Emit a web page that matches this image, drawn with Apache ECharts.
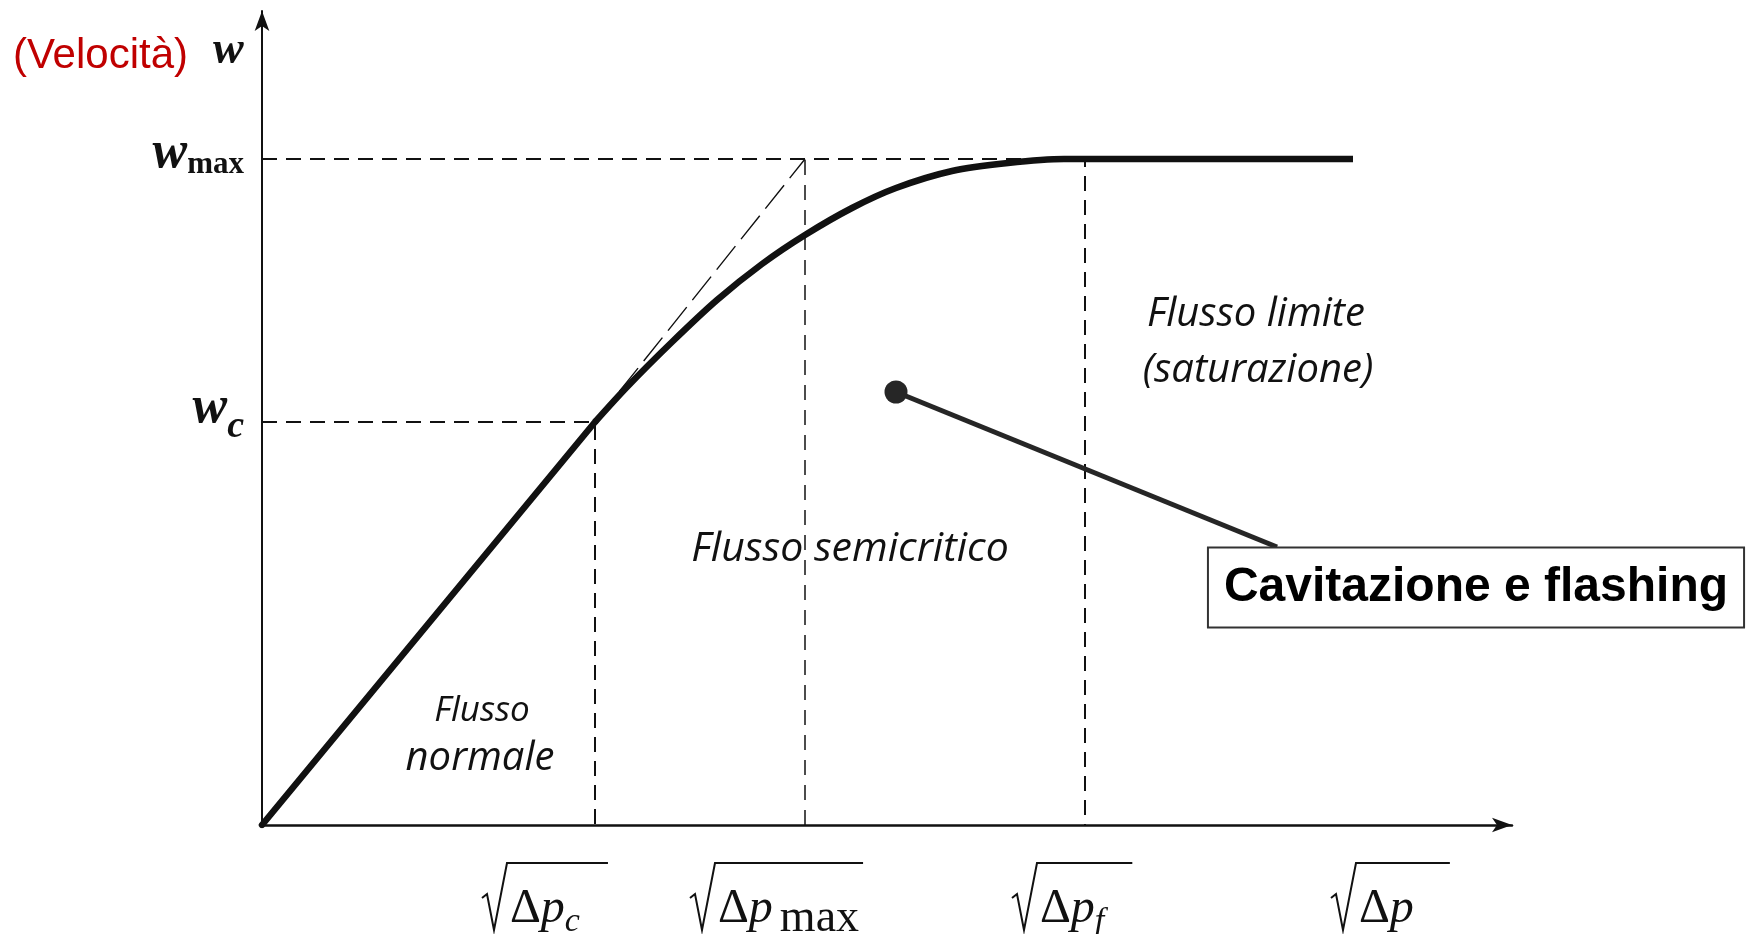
<!DOCTYPE html>
<html>
<head>
<meta charset="utf-8">
<script src="https://cdn.jsdelivr.net/npm/echarts@6/dist/echarts.min.js"></script>
<style>
  html, body { margin: 0; padding: 0; background: #fff; }
  #chart { width: 1757px; height: 934px; }
</style>
</head>
<body>
<div id="chart"></div>
<script>
// Characteristic thresholds on the √Δp axis
const thresholdSubscripts = ['c', 'max', 'f'];
const thresholdX = [3.33, 5.43, 8.23];

// Velocity levels on the w axis
const velocitySubscripts = ['c', 'max'];
const velocityLevels = [4.03, 6.66];

// Flow curve: linear part, transition (semicritical) part, saturation plateau
const linearFlow = [[0, 0], [3.33, 4.03]];
const transitionFlow = [
  [3.33, 4.03], [3.65, 4.38], [4.10, 4.83], [4.55, 5.25], [5.00, 5.61],
  [5.43, 5.90], [5.90, 6.17], [6.34, 6.37], [6.90, 6.54], [7.46, 6.62],
  [8.02, 6.66], [8.23, 6.66], [10.91, 6.66]
];

// Callout: marked point and the anchor of its caption box
const calloutPoint = [6.34, 4.33];
const calloutAnchor = [10.15, 2.78];
const calloutText = 'Cavitazione e flashing';

const INK = '#111111';
const SERIF = '"Liberation Serif", "DejaVu Serif", serif';
const SANS = '"Liberation Sans", Arial, sans-serif';
const HUMAN = '"Open Sans", "Noto Sans", sans-serif';

const X_MAX = 12.5;
const Y_MAX = 8.14;

const [xC, xMax, xF] = thresholdX;
const [wC, wMax] = velocityLevels;

function dashed(data, width, dash) {
  return {
    type: 'line', data: data, showSymbol: false, silent: true, z: 2,
    lineStyle: { color: INK, width: width, type: dash }
  };
}

const chart = echarts.init(document.getElementById('chart'));

chart.setOption({
  animation: false,
  backgroundColor: '#ffffff',
  grid: { left: 262, right: 245, top: 11, bottom: 109 },
  xAxis: {
    type: 'value', min: 0, max: X_MAX,
    axisLine: { show: true, symbol: ['none', 'arrow'], symbolSize: [11, 20],
                lineStyle: { color: INK, width: 2.5 } },
    axisTick: { show: false }, axisLabel: { show: false }, splitLine: { show: false }
  },
  yAxis: {
    type: 'value', min: 0, max: Y_MAX,
    axisLine: { show: true, symbol: ['none', 'arrow'], symbolSize: [11, 20],
                lineStyle: { color: INK, width: 2 } },
    axisTick: { show: false }, splitLine: { show: false },
    axisLabel: {
      customValues: velocityLevels,
      margin: 18,
      formatter: function (v) {
        const i = velocityLevels.indexOf(v);
        return '{w' + i + '|w}{s' + i + '|' + velocitySubscripts[i] + '}';
      },
      rich: {
        w0: { fontFamily: SERIF, fontStyle: 'italic', fontWeight: 'bold', fontSize: 52, color: INK, padding: [0, 0, 26, 0] },
        s0: { fontFamily: SERIF, fontStyle: 'italic', fontWeight: 'bold', fontSize: 38, color: INK, padding: [10, 0, 0, 0] },
        w1: { fontFamily: SERIF, fontStyle: 'italic', fontWeight: 'bold', fontSize: 52, color: INK, padding: [0, 0, 10, 0] },
        s1: { fontFamily: SERIF, fontWeight: 'bold', fontSize: 31, color: INK, padding: [12, 0, 0, 0] }
      }
    }
  },
  series: [
    // guide lines
    dashed([[0, wC], [xC, wC], [xC, 0]], 2, [15, 9]),
    dashed([[0, wMax], [xF, wMax], [xF, 0]], 2, [15, 9]),
    dashed([[xMax, 0], [xMax, wMax]], 1.5, [15, 10]),
    dashed([[xC, wC], [xMax, wMax]], 1.4, [30, 9]),
    // flow curve
    {
      type: 'line', data: linearFlow, showSymbol: false, z: 5,
      lineStyle: { color: INK, width: 6.5, cap: 'round' }
    },
    {
      type: 'line', data: transitionFlow, showSymbol: false, smooth: 0.3, z: 5,
      lineStyle: { color: INK, width: 6.5, cap: 'butt' }
    },
    // callout leader
    {
      type: 'line', data: [calloutPoint, calloutAnchor], showSymbol: false, z: 6,
      lineStyle: { color: '#262626', width: 5 }
    },
    {
      type: 'scatter', data: [calloutPoint], symbolSize: 23, z: 7,
      itemStyle: { color: '#262626', opacity: 1 }
    },
    {
      type: 'scatter', data: [calloutAnchor], symbolSize: 1, z: 8,
      itemStyle: { color: '#262626', opacity: 1 },
      label: {
        show: true, position: 'bottom', distance: 0, offset: [199, 1],
        formatter: calloutText,
        fontFamily: SANS, fontWeight: 'bold', fontSize: 48, color: '#000000',
        lineHeight: 56, backgroundColor: '#ffffff',
        borderColor: '#333333', borderWidth: 2, padding: [11, 15, 11, 15]
      }
    }
  ]
});

// ---- radical labels under the horizontal axis ----
const ctx = document.createElement('canvas').getContext('2d');
function textWidth(txt, font) { ctx.font = font; return ctx.measureText(txt).width; }

const axisY = chart.convertToPixel({ yAxisIndex: 0 }, 0);
const axisEndX = chart.convertToPixel({ xAxisIndex: 0 }, X_MAX);

const mainUp = '48px ' + SERIF;
const mainIt = 'italic 48px ' + SERIF;
const subIt = 'italic 34px ' + SERIF;
const subUp = '46px ' + SERIF;

function radicalLabel(left, pieces, tail) {
  const els = [];
  let x = left + 28;
  pieces.forEach(function (p) {
    els.push({
      type: 'text', x: x, y: axisY + (p.sub ? (p.dy || 97) : 84), silent: true,
      style: { text: p.t, font: p.font, fill: INK, textAlign: 'left', textVerticalAlign: 'middle' }
    });
    x += textWidth(p.t, p.font) + (p.gap || 0);
  });
  const right = x + tail;
  els.push({
    type: 'polyline', silent: true,
    shape: { points: [[left, axisY + 73], [left + 5, axisY + 69], [left + 12, axisY + 105],
                      [left + 25, axisY + 38], [right, axisY + 38]] },
    style: { stroke: INK, lineWidth: 2, fill: null, lineJoin: 'miter' }
  });
  return els;
}

const labelShift = [-113, -115, -73];
let graphics = [];
thresholdX.forEach(function (v, i) {
  const px = chart.convertToPixel({ xAxisIndex: 0 }, v);
  const sub = thresholdSubscripts[i];
  const isMax = sub === 'max';
  graphics = graphics.concat(radicalLabel(px + labelShift[i], [
    { t: 'Δ', font: mainUp },
    { t: 'p', font: mainIt, gap: isMax ? 7 : 0 },
    { t: sub, font: isMax ? subUp : subIt, sub: true, dy: isMax ? 94 : 97 }
  ], isMax ? 4 : 28));
});
// axis title √Δp at the arrow end
graphics = graphics.concat(radicalLabel(axisEndX - 181, [
  { t: 'Δ', font: mainUp },
  { t: 'p', font: mainIt }
], 36));

// ---- axis title of w and region captions ----
function caption(txt, x, y, font, fill, align) {
  return {
    type: 'text', x: x, y: y, silent: true,
    style: { text: txt, font: font, fill: fill || INK, textAlign: align || 'center', textVerticalAlign: 'middle' }
  };
}
graphics.push(caption('(Velocità)', 188, 56, '42px ' + SANS, '#c00000', 'right'));
graphics.push(caption('w', 213, 51, 'italic bold 46px ' + SERIF, INK, 'left'));
graphics.push(caption('Flusso limite', 1256, 315, 'italic 40px ' + HUMAN));
graphics.push(caption('(saturazione)', 1258, 371, 'italic 40px ' + HUMAN));
graphics.push(caption('Flusso semicritico', 850, 549, 'italic 41px ' + HUMAN));
graphics.push(caption('Flusso', 482, 711, 'italic 35px ' + HUMAN));
graphics.push(caption('normale', 480, 759, 'italic 40px ' + HUMAN));

chart.setOption({ graphic: { elements: graphics } });
</script>
</body>
</html>
